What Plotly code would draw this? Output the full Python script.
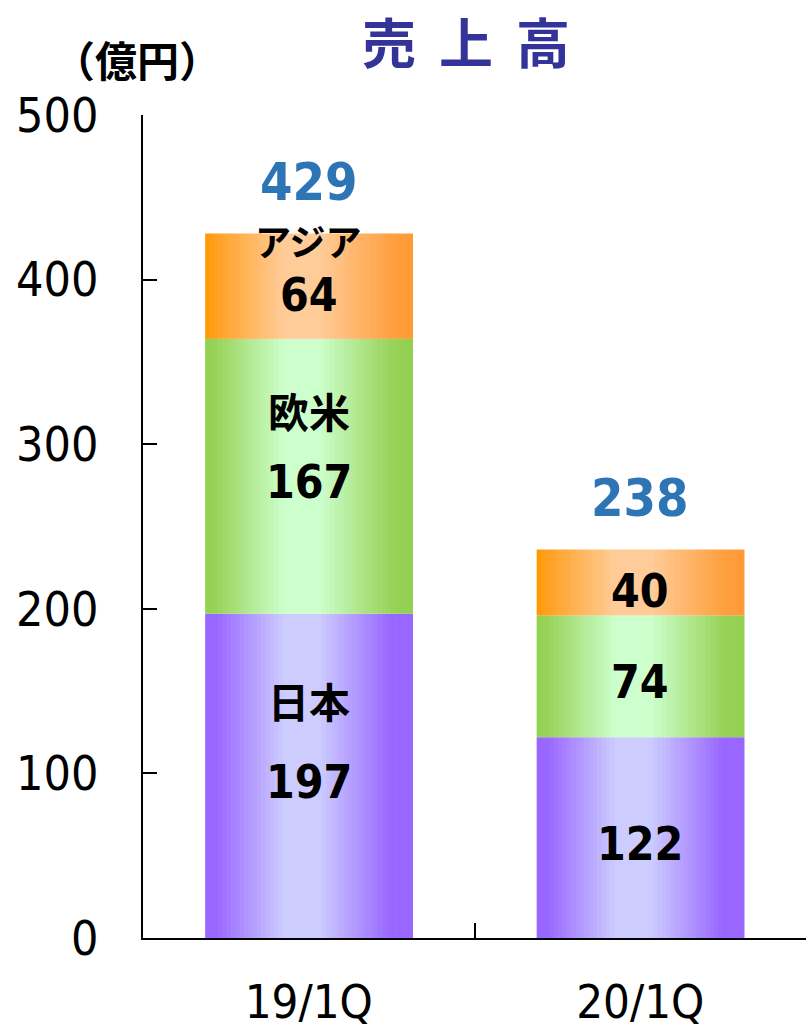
import plotly.graph_objects as go

categories = ["19/1Q", "20/1Q"]
regions = ["日本", "欧米", "アジア"]
japan = [197, 122]
euam = [167, 74]
asia = [64, 40]
totals = [429, 238]
y_ticks = [0, 100, 200, 300, 400, 500]

series = [japan, euam, asia]

# gradient colours (edge / centre)
grad = {
    "日本": ["#9966FF", "#9966FF", "#CCCCFF", "#CCCCFF", "#9966FF", "#9966FF"],
    "欧米": ["#92D050", "#98D358", "#CCFFCC", "#CCFFCC", "#98D358", "#92D050"],
    "アジア": ["#FF9900", "#FFA020", "#FFCC99", "#FFCC99", "#FFA040", "#FF9933"],
}
stops = [0.0, 0.05, 0.38, 0.55, 0.9, 1.0]


def hex2rgb(h):
    h = h.lstrip("#")
    return [int(h[i:i + 2], 16) for i in (0, 2, 4)]


def interp(cols, t):
    for k in range(len(stops) - 1):
        if stops[k] <= t <= stops[k + 1]:
            a, b = hex2rgb(cols[k]), hex2rgb(cols[k + 1])
            f = (t - stops[k]) / (stops[k + 1] - stops[k]) if stops[k + 1] > stops[k] else 0
            c = [round(a[j] + (b[j] - a[j]) * f) for j in range(3)]
            return f"rgb({c[0]},{c[1]},{c[2]})"
    return cols[-1]


W = 0.625
N = 48
fig = go.Figure()

bases = [0] * len(categories)
seg_bases = []
for name, vals in zip(regions, series):
    seg_bases.append(list(bases))
    for i in range(N):
        t = (i + 0.5) / N
        fig.add_trace(go.Bar(
            x=categories, y=vals, base=list(bases),
            width=W / N * 1.15, offset=-W / 2 + i * W / N,
            marker=dict(color=interp(grad[name], t), line=dict(width=0)),
            showlegend=False, hoverinfo="skip",
        ))
    bases = [b + v for b, v in zip(bases, vals)]

NUMFAM = "DejaVu Sans Condensed, DejaVu Sans"
ann = []
numfont = dict(family=NUMFAM, size=46, color="black")
name_size = {"日本": 41, "欧米": 41, "アジア": 36}
name_shift = {"日本": 82, "欧米": 72, "アジア": 52}
value_shift = {"日本": -6, "欧米": -6, "アジア": -9}
for name, vals, sb in zip(regions, series, seg_bases):
    for ci, cat in enumerate(categories):
        mid = sb[ci] + vals[ci] / 2
        ann.append(dict(x=cat, y=mid, text=f"<b>{vals[ci]}</b>", showarrow=False,
                        font=numfont, yshift=value_shift[name]))
        if ci == 0:
            ann.append(dict(x=cat, y=mid, text=f"<b>{name}</b>", showarrow=False,
                            font=dict(family="Noto Sans CJK JP", size=name_size[name], color="black"),
                            yshift=name_shift[name] - 6))

for ci, cat in enumerate(categories):
    ann.append(dict(x=cat, y=bases[ci], text=f"<b>{totals[ci]}</b>", showarrow=False,
                    font=dict(family=NUMFAM, size=52, color="#2E75B6"),
                    yshift=52))

ann.append(dict(xref="paper", yref="paper", x=(466 - 143) / 663, y=1 + (115 - 40) / 823,
                xanchor="center", yanchor="middle",
                text="<b>売 \u2009上 \u2009高</b>", showarrow=False,
                font=dict(family="Noto Sans CJK JP", size=54, color="#333399")))
ann.append(dict(xref="paper", yref="paper", x=(137 - 143) / 663, y=1 + (115 - 58) / 823,
                xanchor="center", yanchor="middle",
                text="<b>（億円）</b>", showarrow=False,
                font=dict(family="Noto Sans CJK JP", size=42, color="black")))

fig.update_layout(
    width=806, height=1031,
    margin=dict(l=143, r=0, t=115, b=93),
    barmode="overlay",
    plot_bgcolor="white", paper_bgcolor="white",
    annotations=ann,
    xaxis=dict(type="category", range=[-0.5, 1.5], showline=True, linecolor="black", linewidth=2,
               ticks="inside", tickson="boundaries", ticklen=15, tickcolor="black", tickwidth=1.5,
               tickfont=dict(family=NUMFAM, size=47, color="black"), automargin=False,
               ticklabelstandoff=22, showgrid=False, zeroline=False, fixedrange=True),
    yaxis=dict(range=[0, 500], tickvals=y_ticks, showline=True, linecolor="black", linewidth=2,
               ticks="inside", ticklen=14, tickcolor="black", tickwidth=1.5,
               tickfont=dict(family=NUMFAM, size=48, color="black"), automargin=False,
               ticklabelstandoff=33, showgrid=False, zeroline=False, fixedrange=True),
)

fig.write_html("out.html", config={"displayModeBar": False},
               post_script="document.body.style.margin='0';")
